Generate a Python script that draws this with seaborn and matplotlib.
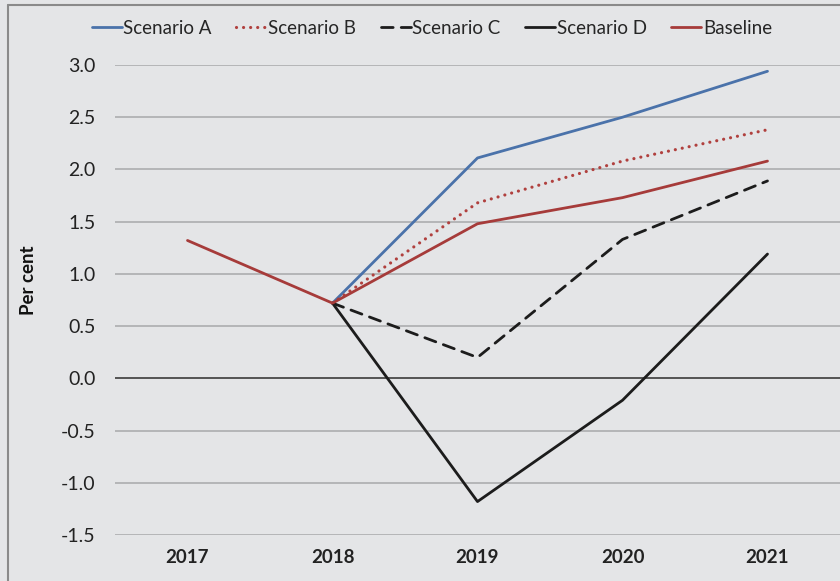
import matplotlib
matplotlib.use("Agg")
import matplotlib.pyplot as plt
import pandas as pd
import seaborn as sns
from matplotlib.lines import Line2D

years = ["2017", "2018", "2019", "2020", "2021"]
scenario_a = [None, 0.72, 2.11, 2.50, 2.94]
scenario_b = [None, 0.72, 1.68, 2.08, 2.38]
scenario_c = [None, 0.72, 0.20, 1.33, 1.89]
scenario_d = [None, 0.72, -1.18, -0.21, 1.19]
baseline = [1.32, 0.72, 1.48, 1.73, 2.08]

series_names = ["Scenario A", "Scenario B", "Scenario C", "Scenario D", "Baseline"]
series_values = [scenario_a, scenario_b, scenario_c, scenario_d, baseline]
series_colors = ["#4a72aa", "#b0403e", "#1c1c1c", "#1c1c1c", "#a63b3a"]
series_dashes = ["-", (0, (0.01, 2.2)), (0, (4.2, 2.9)), "-", "-"]

bg = "#e4e5e7"

sns.set_theme(style="white")
plt.rcParams["font.family"] = ["Lato", "DejaVu Sans"]

fig = plt.figure(figsize=(8.4, 5.81), dpi=100, facecolor=bg)
ax = fig.add_axes([115 / 840, (581 - 535) / 581, 725 / 840, 470 / 581])
ax.set_facecolor(bg)

rows = []
for name, vals in zip(series_names, series_values):
	for i, v in enumerate(vals):
		if v is not None:
			rows.append({"Series": name, "x": i, "value": v})
df = pd.DataFrame(rows)

handles = []
for name, color, ls in zip(series_names, series_colors, series_dashes):
	sub = df[df["Series"] == name]
	lw = 2.3 if name == "Scenario B" else 2.0
	sns.lineplot(data=sub, x="x", y="value", ax=ax, color=color, linewidth=lw,
		linestyle=ls, legend=False, zorder=3, dash_capstyle="round")
	handles.append(Line2D([0], [0], color=color, linewidth=lw, linestyle=ls,
		dash_capstyle="round"))

ax.set_xlim(-0.5, 4.5)
ax.set_ylim(-1.5, 3.0)
ax.set_xticks(range(len(years)))
ax.set_xticklabels(years, fontweight="bold", fontsize=13.5, color="#222222")
ax.set_yticks([-1.5, -1.0, -0.5, 0.0, 0.5, 1.0, 1.5, 2.0, 2.5, 3.0])
ax.set_yticklabels([f"{t:.1f}" for t in ax.get_yticks()], fontsize=14, color="#222222")
ax.tick_params(axis="both", length=0)
ax.tick_params(axis="y", pad=14)
ax.tick_params(axis="x", pad=10)
ax.set_xlabel("")
ax.set_ylabel("Per cent", fontweight="bold", fontsize=13.5, color="#111111")
ax.yaxis.set_label_coords(-0.107, 0.543)

for t in ax.get_yticks():
	ax.axhline(t, color="#b4b5b7", linewidth=1.4, zorder=1)
ax.axhline(0, color="#555555", linewidth=1.4, zorder=2)
for s in ax.spines.values():
	s.set_visible(False)

fig.legend(handles, series_names, loc="center", bbox_to_anchor=(432 / 840, 1 - 28 / 581),
	ncol=5, frameon=False, fontsize=13.5, handlelength=1.6, handletextpad=0.1,
	columnspacing=1.3)

# outer frame of the cropped figure
fig.add_artist(Line2D([8 / 840, 8 / 840], [0, 1 - 5 / 581], color="#8a8a8a", linewidth=1.5,
	transform=fig.transFigure))
fig.add_artist(Line2D([8 / 840, 1], [1 - 5 / 581, 1 - 5 / 581], color="#8a8a8a", linewidth=1.5,
	transform=fig.transFigure))

fig.savefig("out.png", dpi=100, facecolor=bg)
plt.close(fig)
